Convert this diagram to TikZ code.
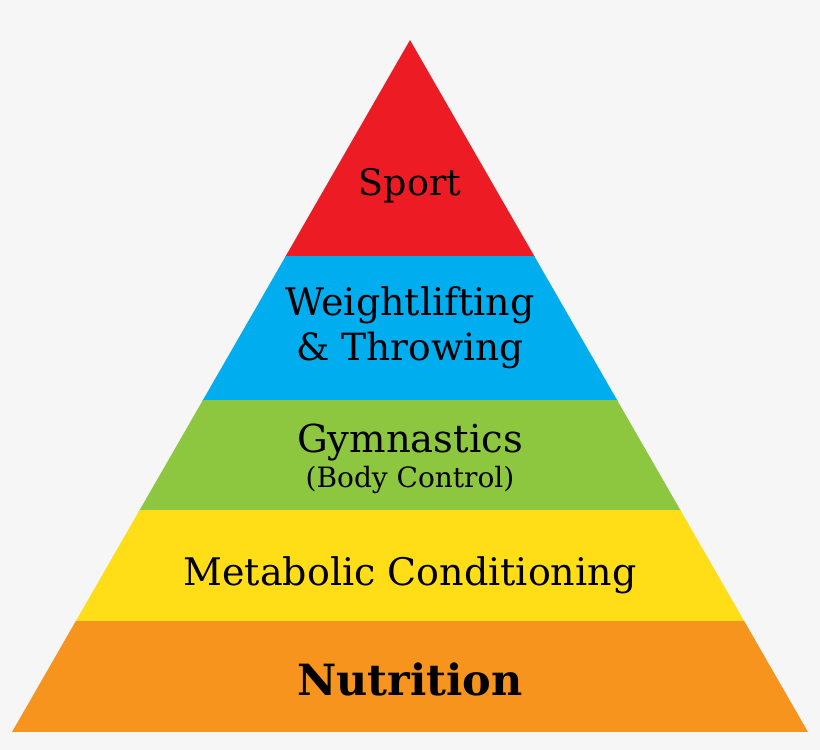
\documentclass[tikz,border=0pt]{standalone}
\usepackage{fontspec}
\setmainfont{DejaVu Serif}
\definecolor{bg}{HTML}{F6F6F6}
\definecolor{cred}{HTML}{ED1C24}
\definecolor{cblue}{HTML}{00AEEF}
\definecolor{cgreen}{HTML}{8DC63F}
\definecolor{cyellow}{HTML}{FFDE17}
\definecolor{corange}{HTML}{F7941D}
\begin{document}
\begin{tikzpicture}[x=1pt,y=-1pt,
  lbl/.style={anchor=base,inner sep=0pt,text=black}]
\fill[bg] (0,0) rectangle (820,750);
\useasboundingbox (0,0) rectangle (820,750);
\begin{scope}
\clip (410,40) -- (808,732) -- (12,732) -- cycle;
\fill[cred] (0,30) rectangle (820,256.5);
\fill[cblue] (0,256) rectangle (820,400.5);
\fill[cgreen] (0,400) rectangle (820,510.5);
\fill[cyellow] (0,510) rectangle (820,621);
\fill[corange] (0,620.5) rectangle (820,732);
\end{scope}
\node[lbl,font=\fontsize{36.5}{42}\selectfont] (sport) at (410,195) {Sport};
\node[lbl,font=\fontsize{38}{44}\selectfont] (wl) at (410,315) {Weightlifting};
\node[lbl,font=\fontsize{37.5}{44}\selectfont] (thr) at (410,360) {\& Throwing};
\node[lbl,font=\fontsize{38.5}{44}\selectfont] (gym) at (410,452) {Gymnastics};
\node[lbl,font=\fontsize{28}{32}\selectfont] (bc) at (410,487) {(Body Control)};
\node[lbl,font=\fontsize{38}{44}\selectfont] (met) at (410,585) {Metabolic Conditioning};
\node[lbl,font=\bfseries\fontsize{43}{50}\selectfont] (nut) at (410,695) {Nutrition};
\end{tikzpicture}
\end{document}
